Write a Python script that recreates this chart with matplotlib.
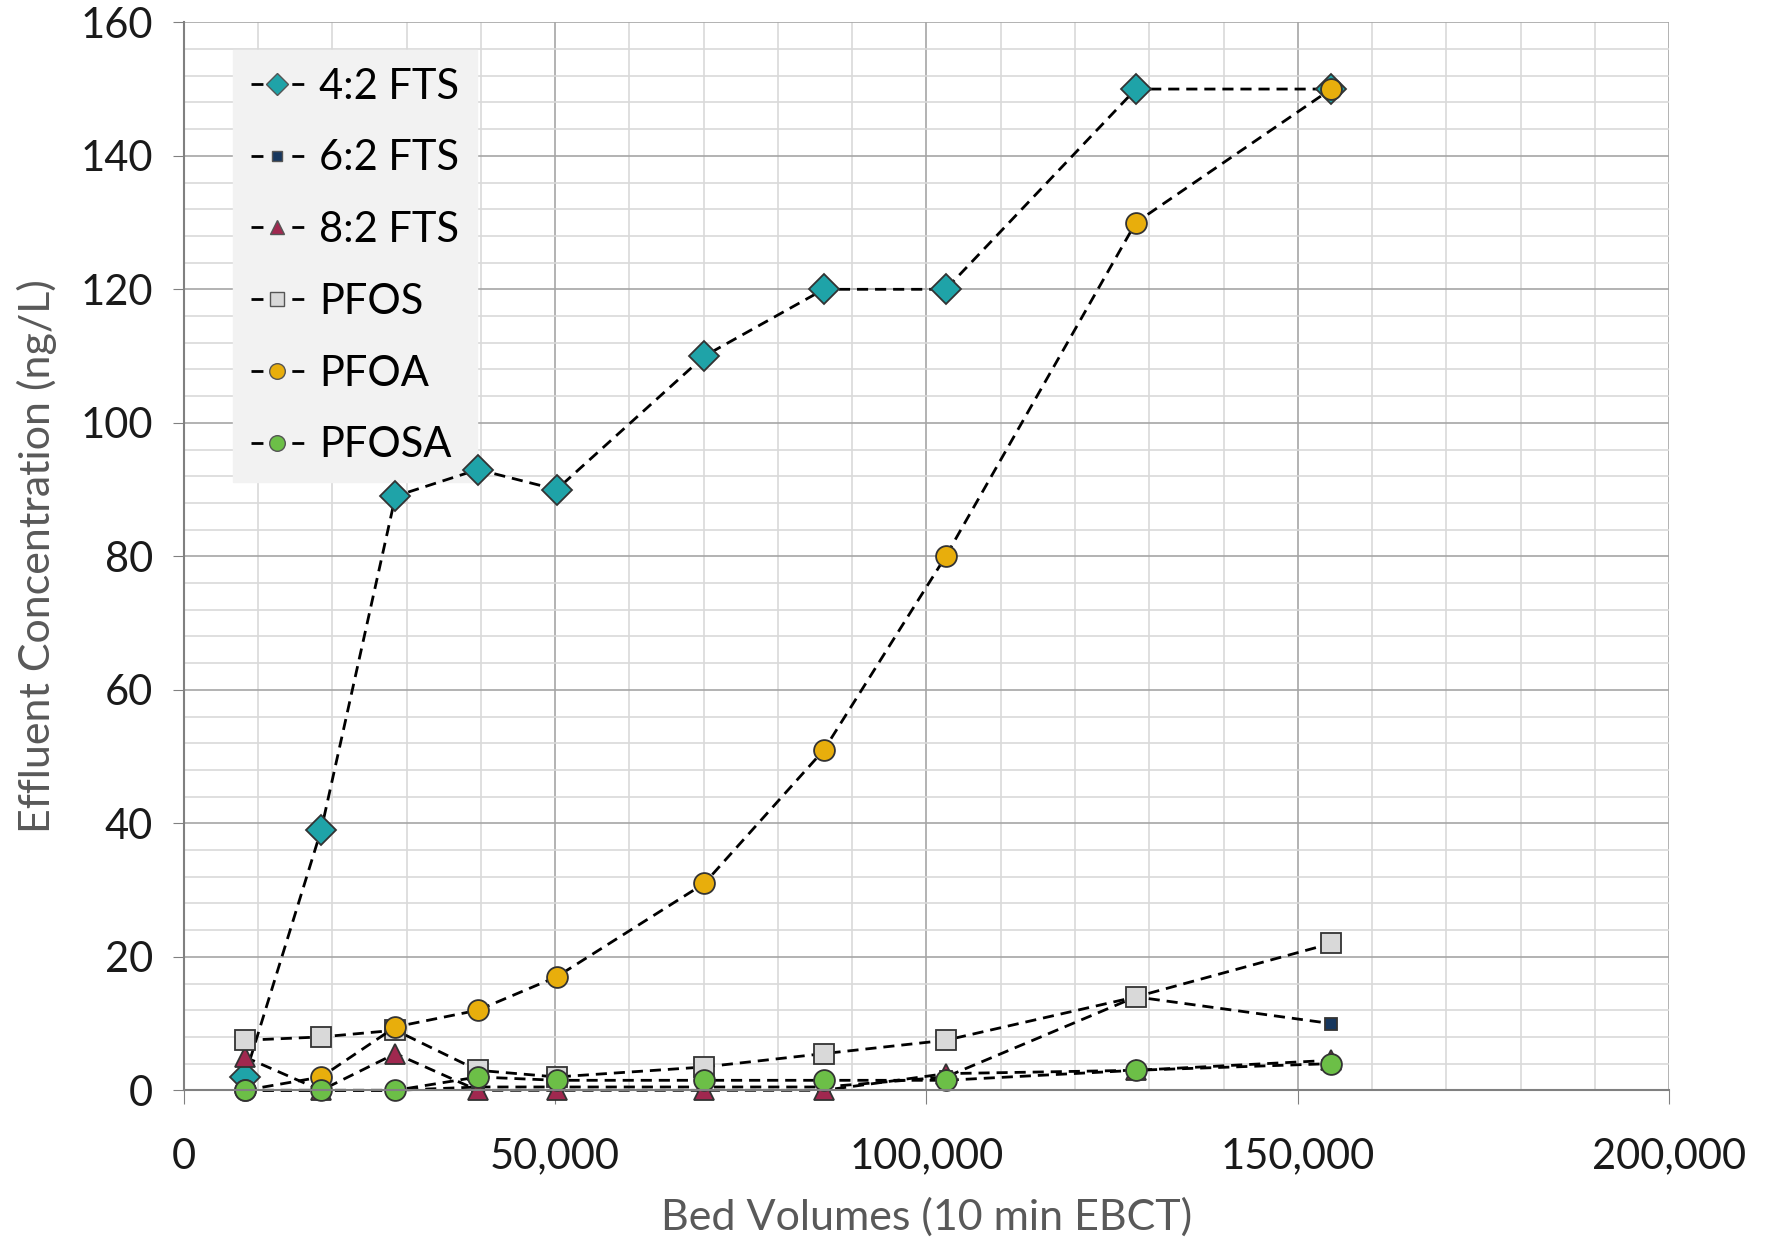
import matplotlib
matplotlib.use("Agg")
import matplotlib.pyplot as plt
from matplotlib.lines import Line2D
from matplotlib.ticker import MultipleLocator, FuncFormatter

plt.rcParams['font.family'] = ['Lato', 'DejaVu Sans']

# bed volumes (10 min EBCT)
bed_volumes = [8200, 18500, 28500, 39600, 50200, 70100, 86200, 102600, 128200, 154500]

# effluent concentrations (ng/L)
fts_42 = [2, 39, 89, 93, 90, 110, 120, 120, 150, 150]
fts_62 = [0, 0, 0, 0.5, 0.5, 0.5, 0.5, 2, 14, 10]
fts_82 = [5, 0, 5.5, 0, 0, 0, 0, 2.5, 3, 4.5]
pfos = [7.5, 8, 9, 3, 2, 3.5, 5.5, 7.5, 14, 22]
pfoa = [0, 2, 9.5, 12, 17, 31, 51, 80, 130, 150]
pfosa = [0, 0, 0, 2, 1.5, 1.5, 1.5, 1.5, 3, 4]

series = [
    ("4:2 FTS", fts_42, "D", "#1FA3A8", 15),
    ("6:2 FTS", fts_62, "s", "#17375E", 9),
    ("8:2 FTS", fts_82, "^", "#A0284F", 14),
    ("PFOS", pfos, "s", "#D9D9D9", 14),
    ("PFOA", pfoa, "o", "#E8AE0C", 15),
    ("PFOSA", pfosa, "o", "#6CBF47", 15),
]

fig = plt.figure(figsize=(17.67, 12.39), dpi=100)
ax = fig.add_axes([0.104, 0.12, 0.8406, 0.862])

handles = []
for nome, valores, marcador, cor, tam in series:
    ax.plot(bed_volumes, valores, linestyle=(0, (4, 2.5)), color="black", linewidth=2,
            marker=marcador, markersize=tam, markerfacecolor=cor,
            markeredgecolor="#333333", markeredgewidth=1.3, clip_on=False)
    # legend entry drawn as "- marker -"
    handles.append(Line2D([], [], linestyle=(0, (4.3, 10.4)), color="black", linewidth=2,
                          marker=marcador, markersize=tam * 0.75, markerfacecolor=cor,
                          markeredgecolor="#555555", markeredgewidth=1.0, label=nome))

ax.set_xlim(0, 200000)
ax.set_ylim(0, 160)
ax.xaxis.set_major_locator(MultipleLocator(50000))
ax.xaxis.set_minor_locator(MultipleLocator(10000))
ax.yaxis.set_major_locator(MultipleLocator(20))
ax.yaxis.set_minor_locator(MultipleLocator(4))
ax.xaxis.set_major_formatter(FuncFormatter(lambda v, p: f"{int(v):,}"))

ax.grid(which="major", color="#a6a6a6", linewidth=1.2)
ax.grid(which="minor", color="#d9d9d9", linewidth=1.2)
ax.set_axisbelow(True)

for lado in ["top", "right"]:
    ax.spines[lado].set_visible(False)
for lado in ["left", "bottom"]:
    ax.spines[lado].set_color("#808080")
    ax.spines[lado].set_linewidth(1.5)

ax.tick_params(axis="both", which="major", labelsize=30, color="#808080",
               direction="out", labelcolor="#1a1a1a")
ax.tick_params(axis="x", which="major", length=10, pad=24)
ax.tick_params(axis="y", which="major", length=8, pad=14)
ax.tick_params(axis="both", which="minor", length=0)

ax.set_xlabel("Bed Volumes (10 min EBCT)", fontsize=31, color="#595959", labelpad=16)
ax.set_ylabel("Effluent Concentration (ng/L)", fontsize=31, color="#595959", labelpad=17)

leg = ax.legend(handles=handles, loc="upper left", bbox_to_anchor=(0.0334, 0.974),
                borderaxespad=0, fontsize=30, frameon=True, fancybox=False, framealpha=1,
                handlelength=1.27, handletextpad=0.37, labelspacing=0.81, borderpad=0.42)
leg.get_frame().set_facecolor("#f2f2f2")
leg.get_frame().set_edgecolor("#f2f2f2")
leg.set_zorder(1.5)  # keep data markers above the legend box

fig.savefig("out.png", dpi=100)
